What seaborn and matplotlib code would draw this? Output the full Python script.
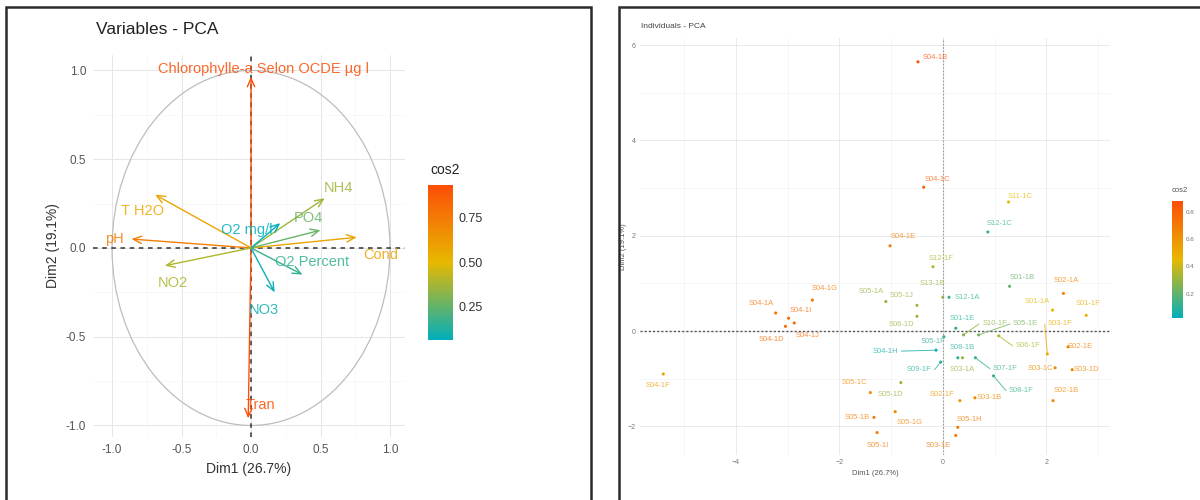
import numpy as np
import pandas as pd
import matplotlib
matplotlib.use("Agg")
import matplotlib.pyplot as plt
import seaborn as sns
from matplotlib.colors import LinearSegmentedColormap, Normalize
from matplotlib.patches import Circle, Rectangle
from matplotlib.cm import ScalarMappable

# --- Variables (cercle des corrélations) ---
var_names = ["Chlorophylle-a Selon OCDE µg l", "Tran", "T H2O", "pH", "Cond", "NH4",
             "PO4", "O2 mg/l", "O2 Percent", "NO3", "NO2"]
var_dim1 = [0.00, -0.02, -0.69, -0.86, 0.76, 0.53, 0.50, 0.21, 0.37, 0.17, -0.62]
var_dim2 = [0.965, -0.96, 0.30, 0.05, 0.06, 0.28, 0.10, 0.14, -0.15, -0.25, -0.10]
var_cos2 = [0.93, 0.92, 0.57, 0.74, 0.58, 0.36, 0.26, 0.065, 0.16, 0.09, 0.39]
# positions des étiquettes (mise en page)
var_lab_x = [0.09, 0.065, -0.78, -0.98, 0.93, 0.63, 0.41, -0.03, 0.44, 0.09, -0.56]
var_lab_y = [1.01, -0.885, 0.21, 0.05, -0.04, 0.34, 0.17, 0.10, -0.08, -0.35, -0.20]

# --- Individus ---
ind_names = ["S04-1B", "S04-1C", "S11-1C", "S12-1C", "S04-1E", "S12-1F", "S13-1B", "S12-1A",
             "S01-1B", "S02-1A", "S01-1A", "S01-1F", "S01-1E", "S10-1F", "S05-1E", "S03-1F",
             "S06-1F", "S02-1E", "S03-1C", "S03-1D", "S02-1B", "S07-1F", "S08-1F", "S08-1B",
             "S03-1A", "S05-1F", "S04-1H", "S09-1F", "S04-1F", "S05-1C", "S05-1D", "S02-1F",
             "S03-1B", "S05-1B", "S05-1G", "S05-1H", "S05-1I", "S03-1E", "S04-1G", "S04-1A",
             "S04-1I", "S04-1D", "S04-1J", "S05-1A", "S05-1J", "S06-1D"]
ind_dim1 = [-0.48, -0.37, 1.27, 0.87, -1.02, -0.19, 0.00, 0.12, 1.29, 2.33, 2.12, 2.77,
            0.25, 0.40, 0.69, 2.02, 1.08, 2.42, 2.17, 2.50, 2.13, 0.63, 0.98, 0.29,
            0.38, 0.02, -0.13, -0.04, -5.40, -1.40, -0.81, 0.33, 0.62, -1.33, -0.92, 0.29,
            -1.27, 0.25, -2.52, -3.23, -2.98, -3.04, -2.87, -1.10, -0.50, -0.50]
ind_dim2 = [5.65, 3.02, 2.71, 2.08, 1.79, 1.35, 0.71, 0.71, 0.94, 0.79, 0.44, 0.33,
            0.06, -0.08, -0.08, -0.48, -0.10, -0.33, -0.77, -0.81, -1.46, -0.56, -0.94, -0.56,
            -0.56, -0.12, -0.40, -0.65, -0.90, -1.29, -1.08, -1.46, -1.40, -1.81, -1.69, -2.02,
            -2.13, -2.19, 0.65, 0.38, 0.27, 0.10, 0.17, 0.62, 0.54, 0.31]
ind_cos2 = [0.86, 0.80, 0.45, 0.12, 0.70, 0.35, 0.30, 0.12, 0.20, 0.66, 0.45, 0.48,
            0.10, 0.28, 0.24, 0.50, 0.35, 0.66, 0.64, 0.66, 0.64, 0.12, 0.12, 0.10,
            0.30, 0.10, 0.06, 0.10, 0.55, 0.62, 0.30, 0.60, 0.65, 0.70, 0.65, 0.70,
            0.70, 0.70, 0.72, 0.72, 0.76, 0.76, 0.76, 0.30, 0.30, 0.30]
# positions des étiquettes (repel, mise en page)
ind_lab_x = [-0.15, -0.10, 1.50, 1.10, -0.77, -0.04, -0.21, 0.48, 1.54, 2.38, 1.83, 2.81,
             0.38, 1.00, 1.60, 2.27, 1.65, 2.65, 1.88, 2.77, 2.38, 1.21, 1.52, 0.38,
             0.38, -0.19, -1.10, -0.46, -5.50, -1.71, -1.02, -0.02, 0.90, -1.65, -0.63, 0.52,
             -1.25, -0.08, -2.29, -3.50, -2.75, -3.31, -2.62, -1.38, -0.79, -0.79]
ind_lab_y = [5.75, 3.19, 2.83, 2.25, 1.98, 1.52, 1.00, 0.71, 1.13, 1.06, 0.63, 0.58,
             0.27, 0.15, 0.15, 0.15, -0.31, -0.33, -0.79, -0.81, -1.25, -0.79, -1.25, -0.35,
             -0.81, -0.21, -0.42, -0.81, -1.15, -1.08, -1.33, -1.33, -1.40, -1.81, -1.92, -1.85,
             -2.40, -2.40, 0.90, 0.58, 0.44, -0.17, -0.10, 0.83, 0.75, 0.13]

df_var = pd.DataFrame({"nom": var_names, "dim1": var_dim1, "dim2": var_dim2, "cos2": var_cos2})
df_ind = pd.DataFrame({"nom": ind_names, "dim1": ind_dim1, "dim2": ind_dim2, "cos2": ind_cos2})

W, H = 1200, 500
cmap = LinearSegmentedColormap.from_list("fviz", ["#00AFBB", "#E7B800", "#FC4E07"])

sns.set_theme(style="whitegrid")
plt.rcParams["font.family"] = ["Liberation Sans", "DejaVu Sans"]

fig = plt.figure(figsize=(W / 100, H / 100), dpi=100)


def box(x0, y0, x1, y1):
    # pixels (origine en haut à gauche) -> fraction de figure
    return [x0 / W, 1 - y1 / H, (x1 - x0) / W, (y1 - y0) / H]


def style_grid(ax, major, minor, lw_major=0.7, lw_minor=0.4):
    ax.set_facecolor("white")
    ax.set_xticks(major[0])
    ax.set_yticks(major[1])
    ax.set_xticks(minor[0], minor=True)
    ax.set_yticks(minor[1], minor=True)
    ax.grid(True, which="major", color="#E6E6E6", lw=lw_major)
    ax.grid(True, which="minor", color="#F3F3F3", lw=lw_minor)
    for s in ax.spines.values():
        s.set_visible(False)


# ---------------- Panneau gauche : Variables - PCA ----------------
ax1 = fig.add_axes(box(93, 55, 405, 437))
norm1 = Normalize(vmin=min(var_cos2), vmax=max(var_cos2))
ax1.set_xlim(-1.137, 1.108)
ax1.set_ylim(-1.065, 1.087)
style_grid(ax1, ([-1, -0.5, 0, 0.5, 1], [-1, -0.5, 0, 0.5, 1]),
           ([-0.75, -0.25, 0.25, 0.75], [-0.75, -0.25, 0.25, 0.75]))
ax1.add_patch(Circle((0, 0), 1, fill=False, ec="#BDBDBD", lw=0.9))
ax1.axhline(0, color="#333333", ls=(0, (3, 3)), lw=1.1)
ax1.axvline(0, color="#333333", ls=(0, (3, 3)), lw=1.1)
for i, row in df_var.iterrows():
    c = cmap(norm1(row["cos2"]))
    ax1.annotate("", xy=(row["dim1"], row["dim2"]), xytext=(0, 0),
                 arrowprops=dict(arrowstyle="->,head_length=0.5,head_width=0.22", color=c, lw=1.0,
                                 shrinkA=0, shrinkB=0))
    ax1.text(var_lab_x[i], var_lab_y[i], row["nom"], color=c, fontsize=10.5, ha="center",
             va="center", alpha=0.85)
ax1.set_xticks([-1, -0.5, 0, 0.5, 1], ["-1.0", "-0.5", "0.0", "0.5", "1.0"])
ax1.set_yticks([-1, -0.5, 0, 0.5, 1], ["-1.0", "-0.5", "0.0", "0.5", "1.0"])
ax1.tick_params(axis="both", which="major", labelsize=8.5, colors="#555555", length=3,
                width=0.6, pad=2)
ax1.tick_params(which="minor", length=0)
ax1.set_xlabel("Dim1 (26.7%)", fontsize=10, color="#333333", labelpad=4)
ax1.set_ylabel("Dim2 (19.1%)", fontsize=10, color="#333333", labelpad=4)
fig.text(96 / W, 1 - 30 / H, "Variables - PCA", fontsize=12.5, color="#222222",
         ha="left", va="center")

cax1 = fig.add_axes(box(428, 185, 453, 340))
cb1 = fig.colorbar(ScalarMappable(norm=norm1, cmap=cmap), cax=cax1)
cb1.set_ticks([0.25, 0.5, 0.75])
cb1.set_ticklabels(["0.25", "0.50", "0.75"])
cb1.outline.set_visible(False)
cax1.tick_params(labelsize=9, colors="#333333", length=4, width=0.8, direction="in", pad=4)
cax1.tick_params(color="white")
fig.text(430 / W, 1 - 170 / H, "cos2", fontsize=10, color="#222222", ha="left", va="center")

# ---------------- Panneau droit : Individuals - PCA ----------------
ax2 = fig.add_axes(box(640, 38, 1110, 455))
norm2 = Normalize(vmin=0.02, vmax=0.88)
ax2.set_xlim(-5.85, 3.23)
ax2.set_ylim(-2.6, 6.15)
style_grid(ax2, ([-4, -2, 0, 2], [-2, 0, 2, 4, 6]),
           ([-5, -3, -1, 1, 3], [-1, 1, 3, 5]), lw_major=0.6, lw_minor=0.5)
ax2.axhline(0, color="#555555", ls=(0, (1.5, 1.5)), lw=1.0)
ax2.axvline(0, color="#9A9A9A", ls=(0, (1.5, 1.5)), lw=0.8)
sns.scatterplot(data=df_ind, x="dim1", y="dim2", hue="cos2", palette=cmap, hue_norm=norm2,
                s=5, linewidth=0, legend=False, ax=ax2)
for i, row in df_ind.iterrows():
    c = cmap(norm2(row["cos2"]))
    lx, ly = ind_lab_x[i], ind_lab_y[i]
    dist = np.hypot((lx - row["dim1"]) * 52, (ly - row["dim2"]) * 48)
    if dist > 22:
        ax2.plot([row["dim1"], lx - np.sign(lx - row["dim1"]) * 0.3], [row["dim2"], ly],
                 color=c, lw=0.7, alpha=0.8)
    ax2.text(lx, ly, row["nom"], color=c, fontsize=5.5, ha="center", va="center", alpha=0.75)
ax2.tick_params(axis="both", which="major", labelsize=5, colors="#777777", length=2,
                width=0.5, pad=1)
ax2.tick_params(which="minor", length=0)
ax2.set_xlabel("Dim1 (26.7%)", fontsize=5.5, color="#555555", labelpad=3)
ax2.set_ylabel("Dim2 (19.1%)", fontsize=5.5, color="#555555", labelpad=0.5)
fig.text(641 / W, 1 - 27 / H, "Individuals - PCA", fontsize=6, color="#444444",
         ha="left", va="center")

cax2 = fig.add_axes(box(1172, 201, 1183, 318))
cb2 = fig.colorbar(ScalarMappable(norm=norm2, cmap=cmap), cax=cax2)
cb2.set_ticks([0.2, 0.4, 0.6, 0.8])
cb2.outline.set_visible(False)
cax2.tick_params(labelsize=4.5, colors="#777777", length=2, width=0.5, direction="in", pad=2)
cax2.tick_params(color="white")
fig.text(1172 / W, 1 - 190 / H, "cos2", fontsize=5.5, color="#555555", ha="left", va="center")

# cadres des captures d'écran
fig.patches.append(Rectangle((6 / W, -0.05), (591 - 6) / W, 1.05 - 7 / H, fill=False,
                             ec="#2A2A2A", lw=1.8, transform=fig.transFigure, figure=fig))
fig.patches.append(Rectangle((619 / W, -0.05), 0.5, 1.05 - 7 / H, fill=False,
                             ec="#2A2A2A", lw=1.8, transform=fig.transFigure, figure=fig))

fig.savefig("out.png", dpi=100, facecolor="white")
